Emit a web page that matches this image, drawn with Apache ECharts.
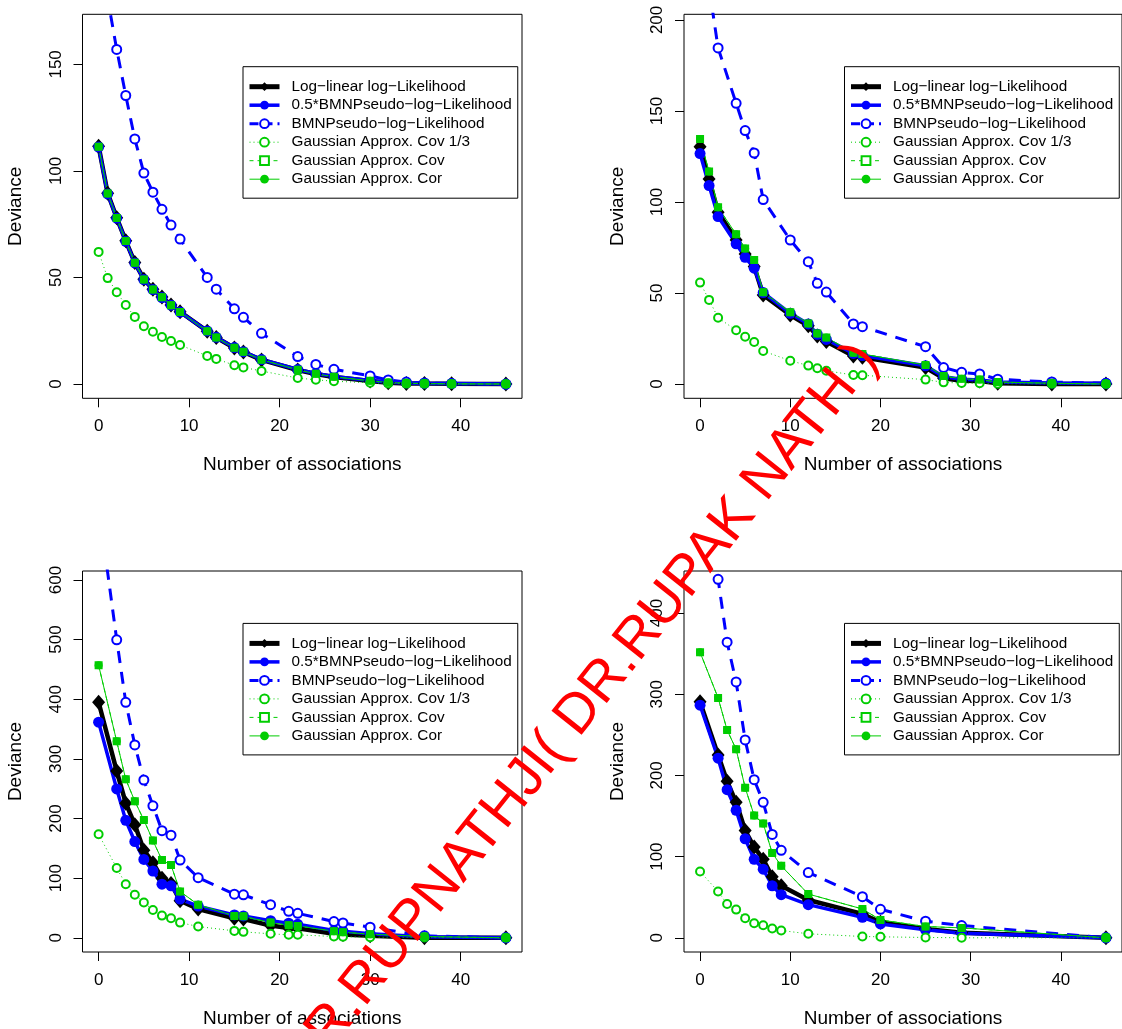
<!DOCTYPE html>
<html>
<head>
<meta charset="utf-8">
<script src="https://cdn.jsdelivr.net/npm/echarts@6/dist/echarts.min.js"></script>
<style>
html, body { margin: 0; padding: 0; background: #fff; }
#chart { width: 1122px; height: 1029px; }
</style>
</head>
<body>
<div id="chart"></div>
<script>
// panel 1 (top left)
const x1 = [0, 1, 2, 3, 4, 5, 6, 7, 8, 9, 12, 13, 15, 16, 18, 22, 24, 26, 30, 32, 34, 36, 39, 45];
const loglin1 = [111.6, 89.5, 78, 67.2, 57, 49.2, 44.5, 40.8, 37.1, 33.9, 24.8, 21.8, 16.9, 15, 11.3, 6.6, 4.7, 3.3, 1.4, 0.6, 0.3, 0.2, 0.1, 0];
const half1 = [111.2, 89.2, 77.8, 67, 56.8, 49, 44.3, 40.6, 37, 33.8, 24.9, 21.9, 17.1, 15.2, 11.5, 6.8, 4.9, 3.5, 1.6, 0.8, 0.5, 0.3, 0.2, 0];
const bmnp1 = [222, 181, 157, 135.4, 115, 99, 90, 82, 74.6, 68, 50, 44.5, 35.3, 31.3, 23.8, 12.9, 9.2, 6.9, 3.8, 1.9, 0.9, 0.5, 0.2, 0];
const cov13_1 = [62, 49.7, 43.1, 37.1, 31.5, 27.1, 24.5, 22.1, 20.2, 18.3, 13.2, 11.8, 8.8, 7.8, 6.1, 2.8, 2, 1.3, 0.6, 0.3, 0.2, 0.1, 0.05, 0];
const cov1 = [111.4, 89.4, 77.9, 67.1, 56.9, 49.1, 44.4, 40.7, 37, 33.8, 24.8, 21.8, 17, 15.1, 11.4, 6.7, 4.8, 3.4, 1.5, 0.7, 0.4, 0.2, 0.1, 0];
const cor1 = [111.4, 89.4, 77.9, 67.1, 56.9, 49.1, 44.4, 40.7, 37, 33.8, 24.8, 21.8, 17, 15.1, 11.4, 6.7, 4.8, 3.4, 1.5, 0.7, 0.4, 0.2, 0.1, 0];

// panel 2 (top right)
const x2 = [0, 1, 2, 4, 5, 6, 7, 10, 12, 13, 14, 17, 18, 25, 27, 29, 31, 33, 39, 45];
const loglin2 = [130.4, 112.6, 94.3, 79.1, 71.4, 64.5, 48.9, 37.9, 32, 26.4, 23.3, 15.4, 14.7, 9, 3.1, 1.8, 1.6, 0.4, 0, 0];
const half2 = [126.6, 109, 92, 77, 69.6, 63.6, 50.2, 38.8, 33, 27.3, 24.5, 16.8, 15.6, 10, 4, 2.6, 2.2, 1.1, 0.5, 0.4];
const bmnp2 = [253, 218, 184.6, 154.2, 139.2, 126.9, 101.3, 79.1, 67.2, 55.3, 50.5, 33, 31.5, 20.5, 9, 6.4, 5.5, 2.6, 1.1, 0.4];
const cov13_2 = [55.7, 46.2, 36.4, 29.5, 26, 23.1, 18.1, 12.8, 10.1, 8.6, 7.3, 4.9, 4.8, 2.4, 0.9, 0.5, 0.4, 0.2, 0.1, 0];
const cov2 = [134.6, 116.7, 97.1, 82.2, 74.5, 68.1, 50.4, 39.4, 33.3, 27.7, 25.5, 17.2, 16.5, 10.4, 4.4, 2.9, 2.4, 1.1, 0.4, 0];
const cor2 = [134.6, 116.7, 97.1, 82.2, 74.5, 68.1, 50.4, 39.4, 33.3, 27.7, 25.5, 17.2, 16.5, 10.4, 4.4, 2.9, 2.4, 1.1, 0.4, 0];

// panel 3 (bottom left)
const x3 = [0, 2, 3, 4, 5, 6, 7, 8, 9, 11, 15, 16, 19, 21, 22, 26, 27, 30, 36, 45];
const loglin3 = [394.9, 279.5, 225.7, 189.7, 147, 125.9, 99.8, 91, 62.1, 48.3, 32.7, 31.6, 20.5, 16.6, 16.1, 6.7, 5.5, 3.3, 0, 0];
const half3 = [361.6, 249.6, 196.9, 161.4, 131.4, 112, 89.9, 87.1, 64.9, 53.2, 38.3, 36.6, 28.8, 24.4, 22.7, 12.2, 11.1, 6.7, 1.7, 0];
const bmnp3 = [725, 499.7, 394.9, 323.3, 264.6, 221.3, 179.7, 172, 130.3, 100.9, 73.2, 72.1, 55.5, 44.4, 41, 27.2, 25, 17.7, 3.3, 0];
const cov13_3 = [173.6, 117, 89.9, 72.1, 59.3, 46.6, 37.2, 32.7, 25.5, 18.9, 11.6, 10, 6.7, 5, 5, 2.2, 1.7, 1.1, 0.5, 0];
const cov3 = [457, 329.4, 265.7, 229.1, 197.4, 163, 130.3, 122, 77.6, 55.5, 36.6, 36.1, 25.5, 21.1, 20, 11.1, 9.4, 6.1, 2.2, 0];
const cor3 = [457, 329.4, 265.7, 229.1, 197.4, 163, 130.3, 122, 77.6, 55.5, 36.6, 36.1, 25.5, 21.1, 20, 11.1, 9.4, 6.1, 2.2, 0];

// panel 4 (bottom right)
const x4 = [0, 2, 3, 4, 5, 6, 7, 8, 9, 12, 18, 20, 25, 29, 45];
const loglin4 = [290.6, 225.3, 192.7, 166.9, 132.2, 111.8, 96.7, 75.1, 64.1, 46.5, 29.4, 19.2, 11, 6.1, 0];
const half4 = [286.5, 221.2, 182.4, 157.1, 122, 96.7, 84.5, 64.1, 53.1, 40.8, 25.3, 17.1, 9.8, 5.7, 0];
const bmnp4 = [573, 441.6, 364.1, 315.1, 243.7, 194.7, 166.9, 127.3, 107.8, 80.4, 50.6, 35.1, 20.4, 15.1, 0];
const cov13_4 = [81.6, 57.1, 41.6, 34.7, 24.1, 18, 15.5, 11.4, 9, 4.9, 1.6, 1.2, 0.4, 0, 0];
const cov4 = [351.8, 295.5, 255.9, 232.2, 184.9, 150.6, 140.8, 104.5, 88.6, 53.9, 35.5, 22, 13.9, 12.2, 0];
const cor4 = [351.8, 295.5, 255.9, 232.2, 184.9, 150.6, 140.8, 104.5, 88.6, 53.9, 35.5, 22, 13.9, 12.2, 0];

const names = ['Log\u2212linear log\u2212Likelihood', '0.5*BMNPseudo\u2212log\u2212Likelihood', 'BMNPseudo\u2212log\u2212Likelihood',
    'Gaussian Approx. Cov 1/3', 'Gaussian Approx. Cov', 'Gaussian Approx. Cor'];
const yTicks1 = [0, 50, 100, 150];
const yTicks2 = [0, 50, 100, 150, 200];
const yTicks3 = [0, 100, 200, 300, 400, 500, 600];
const yTicks4 = [0, 100, 200, 300, 400];
const xTicks = [0, 10, 20, 30, 40];

const green = '#00CD00';
const blue = '#0000FF';

const styles = [
    {color: '#000', lineStyle: {width: 4.5, type: 'solid'}, symbol: 'diamond', symbolSize: [13, 15]},
    {color: blue, lineStyle: {width: 3.5, type: 'solid'}, symbol: 'circle', symbolSize: 11},
    {color: blue, lineStyle: {width: 3, type: [12, 9]}, symbol: 'emptyCircle', symbolSize: 9, borderWidth: 2.5},
    {color: green, lineStyle: {width: 1, type: [1, 3]}, symbol: 'emptyCircle', symbolSize: 8, borderWidth: 1},
    {color: green, lineStyle: {width: 1, type: [4, 4]}, symbol: 'emptyRect', symbolSize: 6, borderWidth: 1},
    {color: green, lineStyle: {width: 1, type: 'solid'}, symbol: 'circle', symbolSize: 8}
];
// legend line samples in R are drawn with the series widths
const legendLines = [
    {width: 5, type: 'solid'}, {width: 3.5, type: 'solid'}, {width: 3, type: [9, 5]},
    {width: 1, type: [1, 3]}, {width: 1, type: [4, 4]}, {width: 1, type: 'solid'}
];

function pairs(xs, ys) {
    return xs.map((x, i) => [x, ys[i]]);
}

const panels = [
    {xs: x1, sets: [loglin1, half1, bmnp1, cov13_1, cov1, cor1], ymin: -6.7, ymax: 173.5, ticks: yTicks1, left: 82.5, top: 14.3},
    {xs: x2, sets: [loglin2, half2, bmnp2, cov13_2, cov2, cor2], ymin: -7.86, ymax: 203.1, ticks: yTicks2, left: 684, top: 14.3},
    {xs: x3, sets: [loglin3, half3, bmnp3, cov13_3, cov3, cor3], ymin: -23.8, ymax: 615, ticks: yTicks3, left: 82.5, top: 571},
    {xs: x4, sets: [loglin4, half4, bmnp4, cov13_4, cov4, cor4], ymin: -17.5, ymax: 451.8, ticks: yTicks4, left: 684, top: 571}
];

const grid = [], xAxis = [], yAxis = [], series = [], legend = [];
panels.forEach((p, k) => {
    grid.push({left: p.left, top: p.top, width: 439.5, height: 384, show: true,
        borderColor: '#000', borderWidth: 1, backgroundColor: 'transparent'});
    xAxis.push({type: 'value', gridIndex: k, min: -1.78, max: 46.78,
        name: 'Number of associations', nameLocation: 'middle', nameGap: 57,
        nameTextStyle: {fontSize: 19, color: '#000'},
        axisLine: {show: false, onZero: false},
        axisTick: {show: true, length: 9, lineStyle: {color: '#000'}, customValues: xTicks},
        axisLabel: {fontSize: 17, color: '#000', margin: 20, customValues: xTicks},
        splitLine: {show: false}});
    yAxis.push({type: 'value', gridIndex: k, min: p.ymin, max: p.ymax,
        name: 'Deviance', nameLocation: 'middle', nameGap: 57,
        nameTextStyle: {fontSize: 19, color: '#000'},
        axisLine: {show: false, onZero: false},
        axisTick: {show: true, length: 9, lineStyle: {color: '#000'}, customValues: p.ticks},
        axisLabel: {fontSize: 17, color: '#000', margin: 18, rotate: 90, customValues: p.ticks},
        splitLine: {show: false}});
    p.sets.forEach((vals, j) => {
        const s = styles[j];
        series.push({
            name: names[j], type: 'line', xAxisIndex: k, yAxisIndex: k,
            data: pairs(p.xs, vals),
            symbol: s.symbol, symbolSize: s.symbolSize, showAllSymbol: true,
            lineStyle: Object.assign({color: s.color}, s.lineStyle),
            itemStyle: {color: s.color, borderColor: s.color, borderWidth: s.borderWidth || 0},
            emphasis: {disabled: true},
            clip: true
        });
    });
    legend.push({
        data: names.map((n, j) => ({name: n, lineStyle: Object.assign({color: styles[j].color}, legendLines[j])})),
        orient: 'vertical', left: p.left + 160.5, top: p.top + 52.4,
        itemWidth: 30, itemHeight: 11, itemGap: 2.5,
        padding: [12, 6, 11, 4],
        borderColor: '#000', borderWidth: 1, borderRadius: 0, backgroundColor: '#fff',
        selectedMode: false,
        textStyle: {fontSize: 15.3, color: '#000', lineHeight: 16, padding: [0, 0, 0, 7]}
    });
});

const chart = echarts.init(document.getElementById('chart'));
chart.setOption({
    animation: false,
    textStyle: {fontFamily: 'Liberation Sans'},
    grid: grid,
    xAxis: xAxis,
    yAxis: yAxis,
    legend: legend,
    series: series,
    graphic: [{
        type: 'text', x: 580, y: 712, rotation: 51.5 * Math.PI / 180, z: 100,
        style: {text: 'DR.RUPNATHJI( DR.RUPAK NATH )', fill: '#FF0000',
            font: '56px "Liberation Sans"', align: 'center', verticalAlign: 'middle'}
    }]
});
</script>
</body>
</html>
